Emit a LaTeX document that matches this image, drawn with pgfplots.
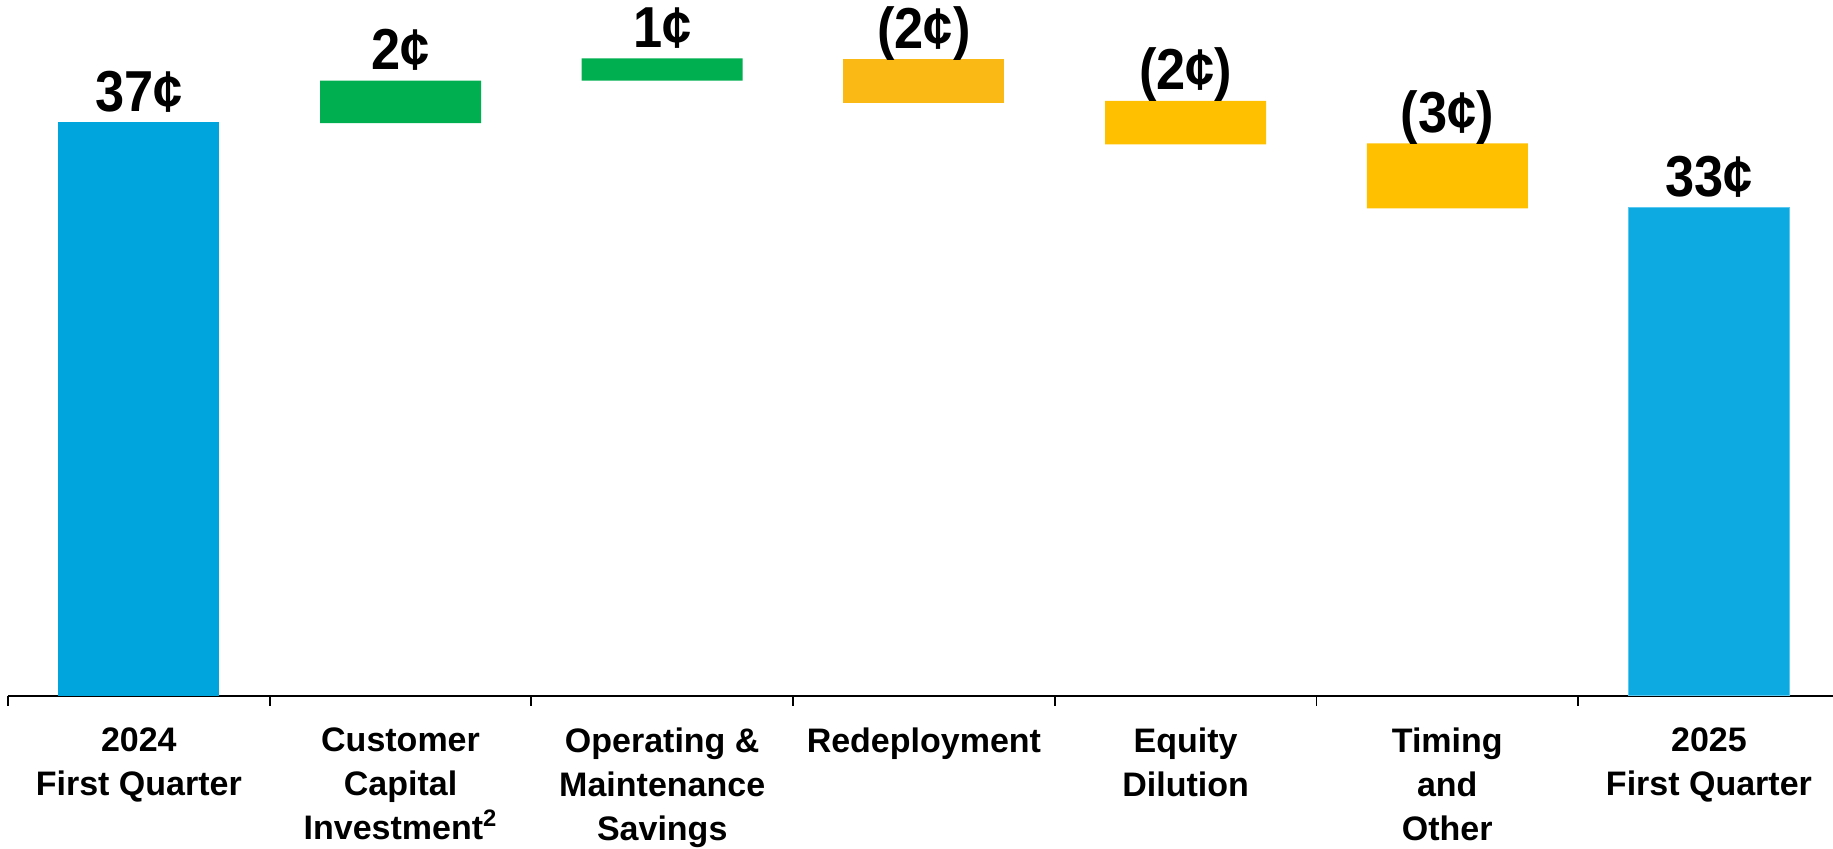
\documentclass[border=0pt]{standalone}
\usepackage{fontspec}
\setmainfont{Liberation Sans}
\usepackage{pgfplots}
\pgfplotsset{compat=1.18}

\definecolor{blueA}{RGB}{0,165,222}
\definecolor{blueB}{RGB}{12,170,224}
\definecolor{blueBedge}{RGB}{90,200,240}
\definecolor{greenA}{RGB}{0,176,80}
\definecolor{orangeA}{RGB}{250,185,20}
\definecolor{orangeB}{RGB}{255,192,0}

\newcommand{\tall}[1]{\scalebox{0.97}[1.07]{#1}}

\begin{document}
\begin{tikzpicture}
\pgfplotsset{
  wf/.style={scale only axis, width=912.5pt, height=348pt,
    xmin=-0.5, xmax=6.474, ymin=10, ymax=42.75,
    at={(4pt,76.5pt)}, anchor=south west}
}
% waterfall: invisible base + coloured steps
\begin{axis}[wf,
    ybar stacked, bar width=80.5pt,
    axis x line=bottom, axis y line=none,
    x axis line style={-, line width=1.2pt, black},
    xtick={0,...,6}, major tick length=0pt,
    xticklabels={{2024\\First Quarter},
                 {Customer\\Capital\\Investment\textsuperscript{2}},
                 {Operating \&\\Maintenance\\Savings},
                 {Redeployment},
                 {Equity\\Dilution},
                 {Timing\\and\\Other},
                 {2025\\First Quarter}},
    xticklabel style={anchor=north, inner sep=0pt, yshift=-15.5pt, align=center,
                      font=\fontsize{17}{22}\selectfont\bfseries},
    extra x ticks={-0.5,0.5,...,5.5},
    extra x tick labels={},
    extra x tick style={major tick length=5pt, tick align=outside,
                        major tick style={line width=0.9pt, black}},
    ytick=\empty,
]
\addplot [draw=none, fill=none] coordinates {
  (0,10) (1,36.95) (2,38.95) (3,37.9) (4,35.95) (5,32.95) (6,10)};
\addplot [draw=none, fill=blueA] coordinates {
  (0,27) (1,0) (2,0) (3,0) (4,0) (5,0) (6,0)};
\addplot [draw=none, fill=greenA] coordinates {
  (0,0) (1,2.0) (2,1.05) (3,0) (4,0) (5,0) (6,0)};
\addplot [draw=none, fill=orangeA] coordinates {
  (0,0) (1,0) (2,0) (3,2.05) (4,0) (5,0) (6,0)};
\addplot [draw=none, fill=orangeB] coordinates {
  (0,0) (1,0) (2,0) (3,0) (4,2.05) (5,3.05) (6,0)};
\addplot [draw=blueBedge, line width=0.6pt, fill=blueB] coordinates {
  (0,0) (1,0) (2,0) (3,0) (4,0) (5,0) (6,22.97)};
\end{axis}

% value labels
\begin{axis}[wf, hide axis, clip=false]
\addplot [draw=none, mark=none,
    nodes near coords={\tall{\pgfplotspointmeta}}, point meta=explicit symbolic,
    every node near coord/.style={anchor=base, inner sep=0pt, yshift=5.5pt,
        font=\fontsize{27}{30}\selectfont\bfseries, text=black}]
  coordinates {
  (0,37.0) [37¢]
  (1,38.95) [2¢]
  (2,40.0) [1¢]
  (3,39.95) [(2¢)]
  (4,38.0) [(2¢)]
  (5,36.0) [(3¢)]
  (6,32.97) [33¢]
};
\end{axis}

\pgfresetboundingbox
\path (0,0) rectangle (916.5pt,424.5pt);
\end{tikzpicture}
\end{document}
